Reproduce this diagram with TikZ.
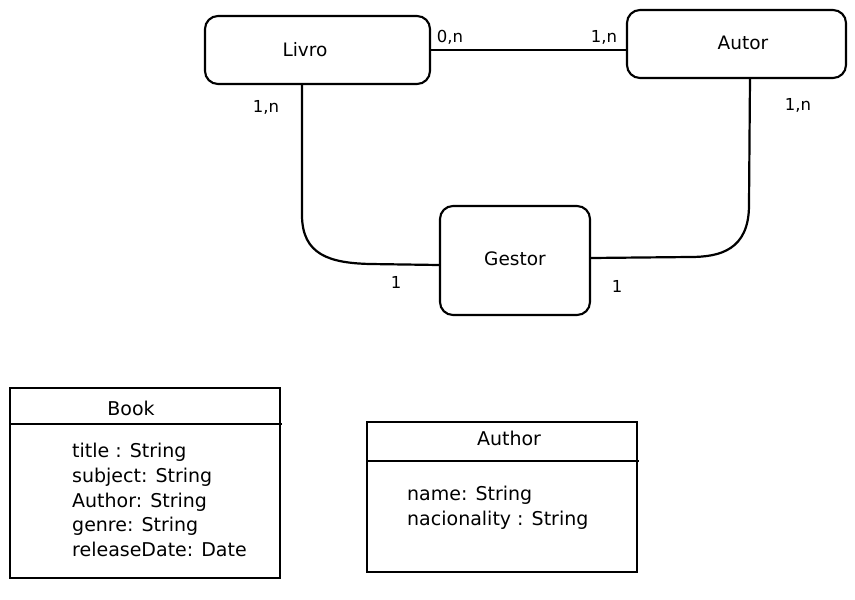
\documentclass[tikz,border=0pt]{standalone}
\usepackage{fontspec}
\setmainfont{DejaVu Sans}
\begin{document}
\begin{tikzpicture}[x=1pt,y=-1pt,
  entity/.style={draw=black,line width=2.1pt,rounded corners=13pt,fill=white},
  etext/.style={font=\fontsize{18.5}{22}\selectfont},
  conn/.style={draw=black,line width=2.2pt},
  card/.style={font=\fontsize{16.5}{19}\selectfont},
  umlbox/.style={draw=black,line width=1.3pt},
  umltitle/.style={font=\fontsize{19}{22}\selectfont},
  umlattr/.style={font=\fontsize{19}{24.7}\selectfont,align=left,anchor=north west,inner sep=0pt}]
\useasboundingbox (0,0) rectangle (855,600);
% entities
\node[entity,minimum width=225pt,minimum height=68pt] (livro) at (317.5,50) {};
\node[entity,minimum width=219pt,minimum height=68pt] (autor) at (736.5,44) {};
\node[entity,minimum width=150pt,minimum height=109pt] (gestor) at (515,260.5) {};
\node[etext] (livrot) at (305,50) {Livro};
\node[etext] (autort) at (743,43) {Autor};
\node[etext] (gestort) at (515,259) {Gestor};
% connectors
\draw[conn] (livro.east) -- (autor.west |- livro.east);
\coordinate (lb) at (302,84);
\coordinate (ab) at (750,78);
\draw[conn] (lb) -- (302,215) .. controls (302,255) and (330,263) .. (370,264) -- (gestor.west |- 0,265);
\draw[conn] (ab) -- (749,205) .. controls (749,250) and (720,257) .. (690,257) -- (gestor.east |- 0,258);
% cardinalities
\node[card] (c1) at (450,37) {0,n};
\node[card] (c2) at (604,37) {1,n};
\node[card] (c3) at (266,107) {1,n};
\node[card] (c4) at (798,105) {1,n};
\node[card] (c5) at (396,282) {1};
\node[card] (c6) at (617,286) {1};
% UML Book
\draw[umlbox] (10,388) rectangle (280,578);
\draw[umlbox] (10,424) -- (282,424);
\node[umltitle] (bookt) at (131,408) {Book};
\node[umlattr] (booka) at (72,443) {title : String\\subject: String\\Author: String\\genre: String\\releaseDate: Date};
% UML Author
\draw[umlbox] (367,422) rectangle (637,572);
\draw[umlbox] (367,461) -- (639,461);
\node[umltitle] (autht) at (509,438) {Author};
\node[umlattr] (autha) at (407,486) {name: String\\nacionality : String};
\end{tikzpicture}
\end{document}
